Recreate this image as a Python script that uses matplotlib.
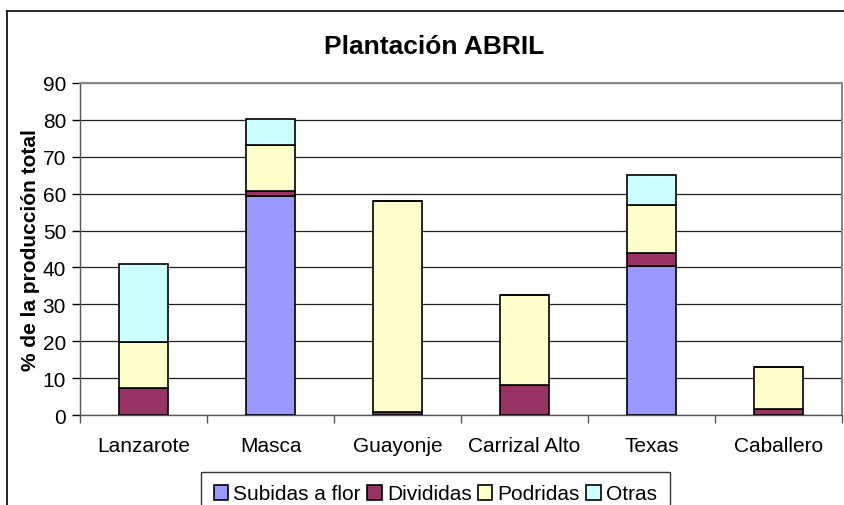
import matplotlib
matplotlib.use("Agg")
import matplotlib.pyplot as plt
import numpy as np
from matplotlib.lines import Line2D

plt.rcParams['font.family'] = ['Liberation Sans', 'DejaVu Sans']

categories = ["Lanzarote", "Masca", "Guayonje", "Carrizal Alto", "Texas", "Caballero"]
subidas = [0.0, 59.3, 0.0, 0.0, 40.3, 0.0]
divididas = [7.2, 1.3, 0.9, 8.1, 3.7, 1.6]
podridas = [12.6, 12.5, 57.1, 24.3, 12.9, 11.4]
otras = [21.0, 7.2, 0.0, 0.0, 8.2, 0.0]

series_names = ["Subidas a flor", "Divididas", "Podridas", "Otras"]
colors = ["#9999FF", "#993366", "#FFFFCC", "#CCFFFF"]

W, H = 844, 506
fig = plt.figure(figsize=(W / 100, H / 100), dpi=100)
ax = fig.add_axes([80 / W, 1 - 416 / H, (842 - 80) / W, (416 - 84) / H])

x = np.arange(len(categories))
bottom = np.zeros(len(categories))
for name, vals, c in zip(series_names, [subidas, divididas, podridas, otras], colors):
    vals = np.array(vals)
    ax.bar(x, vals, width=0.39, bottom=bottom, color=c, edgecolor="black",
           linewidth=1.2, label=name, zorder=3)
    bottom += vals

ax.set_xlim(-0.5, len(categories) - 0.5)
ax.set_ylim(0, 90)
ax.set_yticks(np.arange(0, 91, 10))
ax.yaxis.grid(True, color="#202020", linewidth=0.9, zorder=0)
ax.tick_params(axis="y", direction="out", length=6, width=1, labelsize=15, pad=4)

ax.set_xticks(np.arange(-0.5, len(categories), 1.0))
ax.set_xticklabels([])
ax.set_xticks(x, minor=True)
ax.set_xticklabels(categories, minor=True, fontsize=15)
ax.tick_params(axis="x", which="major", direction="out", length=6, width=1, color="#555555")
ax.tick_params(axis="x", which="minor", length=0, pad=15)

for s in ["top", "right"]:
    ax.spines[s].set_color("#888888")
    ax.spines[s].set_linewidth(1.5)
for s in ["left", "bottom"]:
    ax.spines[s].set_color("#555555")
    ax.spines[s].set_linewidth(1)

ax.set_ylabel("% de la producción total", fontsize=15, fontweight="bold", labelpad=2)

fig.text(434 / W, 1 - 47 / H, "Plantación ABRIL", ha="center", va="center",
         fontsize=19, fontweight="bold")

# figure border (cut off at right and bottom)
fig.add_artist(Line2D([7 / W, 7 / W], [1 - 12 / H, -0.1], transform=fig.transFigure,
                      color="black", linewidth=1.2))
fig.add_artist(Line2D([7 / W, 1.1], [1 - 12 / H, 1 - 12 / H], transform=fig.transFigure,
                      color="black", linewidth=1.2))

leg = fig.legend(loc="upper left", bbox_to_anchor=(201 / W, 1 - 473 / H), ncol=4,
                 fontsize=15, frameon=True, fancybox=False, edgecolor="black",
                 handlelength=0.7, handleheight=0.7, handletextpad=0.25,
                 columnspacing=0.3, borderpad=0.6, borderaxespad=0)
leg.get_frame().set_linewidth(1)

fig.savefig("out.png", dpi=100)
